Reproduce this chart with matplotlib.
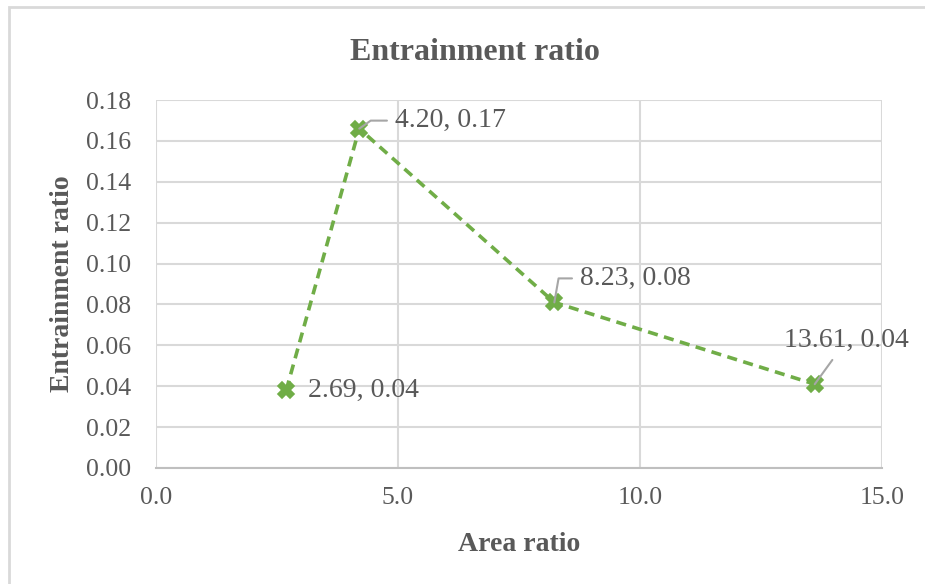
import matplotlib.pyplot as plt
from matplotlib.patches import Rectangle

# area ratio vs entrainment ratio
area_ratio = [2.69, 4.20, 8.23, 13.61]
entrainment = [0.038, 0.166, 0.081, 0.041]
# label placement in pixels relative to each point, plus leader style
label_offsets = [(22, 0), (36, 8), (26, 24), (32, 44)]
label_align = ['left', 'left', 'left', 'center']
leaders = [None,
           'angle,angleA=0,angleB=35,rad=0',
           'angle,angleA=0,angleB=80,rad=0',
           'arc3,rad=0']

xticks = [0, 5, 10, 15]
yticks = [0.00, 0.02, 0.04, 0.06, 0.08, 0.10, 0.12, 0.14, 0.16, 0.18]

plt.rcParams['font.family'] = ['Liberation Serif', 'DejaVu Serif']
text_c = '#595959'
green = '#70AD47'
grid_c = '#D9D9D9'

fig = plt.figure(figsize=(9.25, 5.84), dpi=100)
ax = fig.add_axes([156 / 925, 1 - 468 / 584, 726 / 925, 368 / 584])

# outer chart frame (only the left and top edges fall inside the image)
fig.patches.append(Rectangle((9 / 925, -0.1), 1.2, 1.1 - 7 / 584, fill=False,
                             edgecolor=grid_c, lw=2, transform=fig.transFigure))

ax.plot(area_ratio, entrainment, color=green, lw=2.6, ls=(0, (2.8, 1.8)),
        marker='X', ms=12, mfc=green, mec=green, mew=1.2, zorder=3)

for x, y, off, ha, conn in zip(area_ratio, entrainment, label_offsets, label_align, leaders):
    kw = {}
    if conn is not None:
        kw['arrowprops'] = dict(arrowstyle='-', color='#A6A6A6', lw=1.5,
                                shrinkA=4, shrinkB=0, connectionstyle=conn)
    ax.annotate(f'{x:.2f}, {y:.2f}', (x, y), xytext=off, textcoords='offset pixels',
                ha=ha, va='center', fontsize=20, color=text_c, zorder=4, **kw)

ax.set_xlim(0, 15)
ax.set_ylim(0, 0.18)
ax.set_xticks(xticks)
ax.set_yticks(yticks)
ax.set_xticklabels([f'{v:.1f}' for v in xticks])
ax.set_yticklabels([f'{v:.2f}' for v in yticks])
ax.tick_params(length=0, labelsize=18.5, labelcolor=text_c)
ax.tick_params(axis='y', pad=18)
ax.tick_params(axis='x', pad=14)
ax.grid(True, color=grid_c, lw=1.5)
ax.set_axisbelow(True)
for s in ['top', 'right', 'left']:
    ax.spines[s].set_visible(False)
ax.spines['bottom'].set_color('#BFBFBF')
ax.spines['bottom'].set_linewidth(1.5)

fig.text(475 / 925, 1 - 52 / 584, 'Entrainment ratio', fontsize=23, fontweight='bold',
         color=text_c, ha='center', va='center')
ax.set_xlabel('Area ratio', fontsize=20, fontweight='bold', color=text_c, labelpad=16)
ax.set_ylabel('Entrainment ratio', fontsize=20, fontweight='bold', color=text_c, labelpad=8)

plt.savefig('out.png', dpi=100)
